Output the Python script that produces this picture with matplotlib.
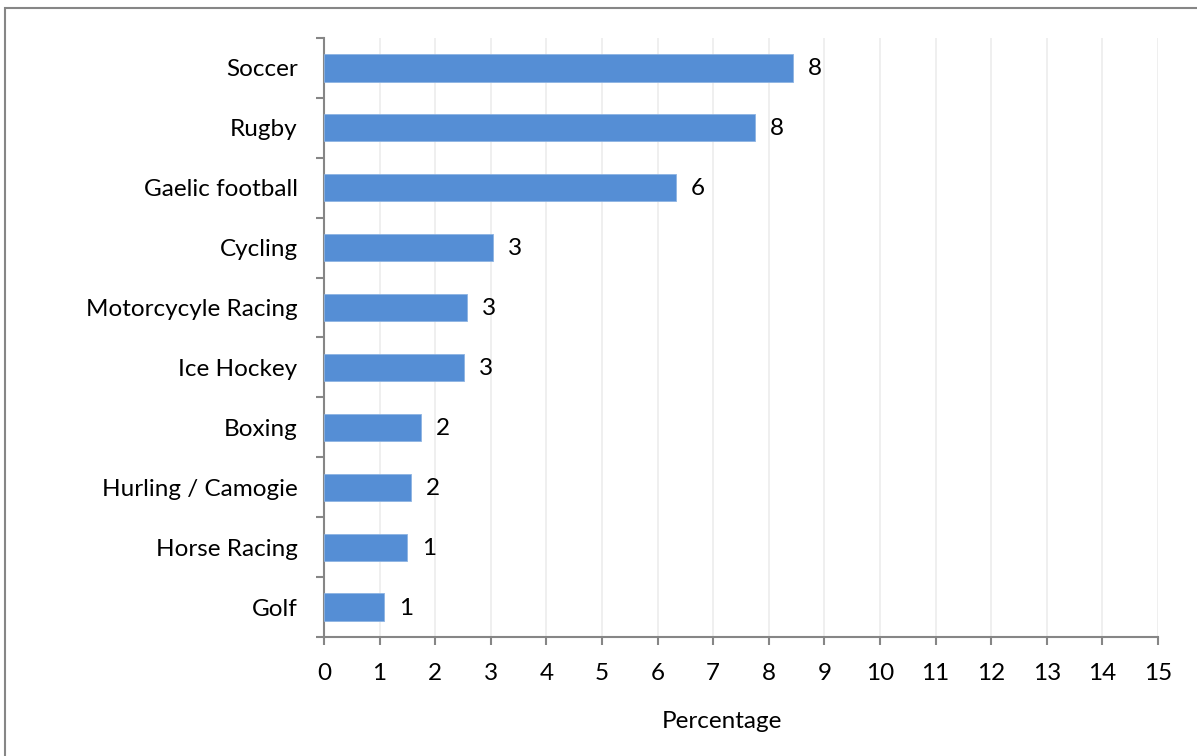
import matplotlib
matplotlib.use("Agg")
import matplotlib.pyplot as plt
from matplotlib.patches import Rectangle
import numpy as np

categories = ["Soccer", "Rugby", "Gaelic football", "Cycling", "Motorcycyle Racing",
              "Ice Hockey", "Boxing", "Hurling / Camogie", "Horse Racing", "Golf"]
values = [8.43, 7.75, 6.33, 3.04, 2.57, 2.52, 1.74, 1.56, 1.49, 1.08]
labels = ["8", "8", "6", "3", "3", "3", "2", "2", "1", "1"]
xticks = list(range(0, 16))

plt.rcParams['font.family'] = ['Lato', 'DejaVu Sans']
FS = 17.5

W, H = 1197, 756
fig = plt.figure(figsize=(W/100, H/100), dpi=100)
ax = fig.add_axes([324/W, 1-637/H, (1158-324)/W, (637-38)/H])

n = len(categories)
ypos = list(range(n))[::-1]
ax.barh(ypos, values, height=0.4545, color="#558ED5", edgecolor="#8DB3E2", linewidth=0.6, zorder=3)
for y, v, lab in zip(ypos, values, labels):
    ax.annotate(lab, (v, y), xytext=(15, -1), textcoords="offset pixels",
                va="center", ha="left", fontsize=FS, color="black")

ax.set_xlim(0, 15)
ax.set_ylim(-0.5, n-0.5)
ax.set_xticks(xticks)
ax.set_xticklabels([str(t) for t in xticks], fontsize=FS)
ax.set_yticks(ypos)
ax.set_yticklabels(categories, fontsize=FS)
ax.tick_params(axis='y', length=0, pad=19)
ax.tick_params(axis='x', length=6, width=1.5, color="#868686", pad=13)
ax.set_yticks(np.arange(-0.5, n, 1.0), minor=True)
ax.tick_params(axis='y', which='minor', length=6, width=1.5, color="#868686")

ax.grid(axis='x', color="#EEEEEE", linewidth=1.3, zorder=0)
ax.set_axisbelow(True)
for s in ["top", "right"]:
    ax.spines[s].set_visible(False)
for s in ["left", "bottom"]:
    ax.spines[s].set_color("#868686")
    ax.spines[s].set_linewidth(1.5)

fig.text(722/W, 1-722/H, "Percentage", fontsize=FS, ha="center", va="center")

fig.add_artist(Rectangle((5/W, -0.02), 1.05, 1-8/H+0.02, transform=fig.transFigure,
                         fill=False, edgecolor="#868686", linewidth=1.5))

fig.savefig("out.png", dpi=100)
